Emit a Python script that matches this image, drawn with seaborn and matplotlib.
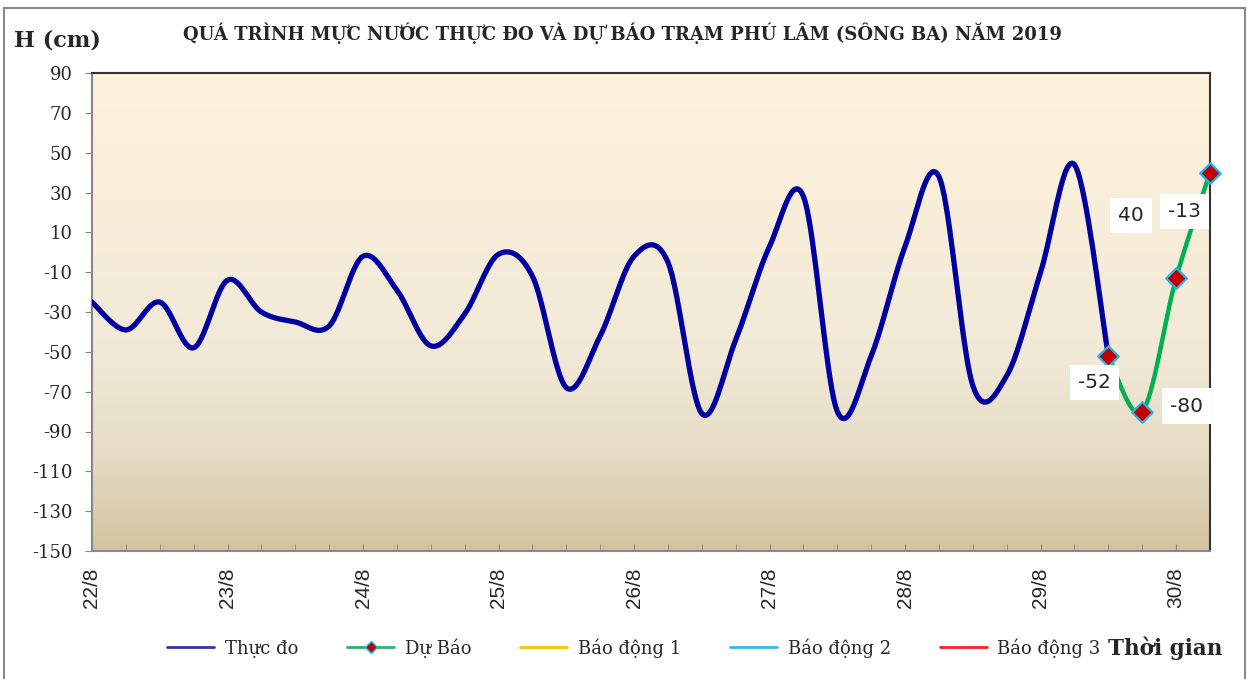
import numpy as np
import pandas as pd
import matplotlib.pyplot as plt
import seaborn as sns
from matplotlib.lines import Line2D
from matplotlib.patches import Rectangle
from matplotlib.colors import LinearSegmentedColormap

# water level readings every 6 hours, 22/8 00h .. 29/8 12h
thuc_do = [-25, -39, -25, -48, -14, -30, -35, -37,
           -2, -19, -47, -31, -1, -12, -68, -42,
           -2, -5, -81, -44, 3, 28, -80, -52,
           3, 38, -67, -62, -10, 44, -52]
# forecast, 29/8 12h .. 30/8 06h
du_bao = [-52, -80, -13, 40]
du_bao_start = 30
day_labels = ["22/8", "23/8", "24/8", "25/8", "26/8", "27/8", "28/8", "29/8", "30/8"]
y_ticks = list(range(90, -151, -20))


def smooth(xs, ys, n=20):
    # Excel-like smoothed line (Catmull-Rom bezier)
    xs = np.asarray(xs, float)
    ys = np.asarray(ys, float)
    px = np.concatenate([[xs[0]], xs, [xs[-1]]])
    py = np.concatenate([[ys[0]], ys, [ys[-1]]])
    outx, outy = [], []
    t = np.linspace(0, 1, n)
    for i in range(1, len(px) - 2):
        p0 = np.array([px[i - 1], py[i - 1]])
        p1 = np.array([px[i], py[i]])
        p2 = np.array([px[i + 1], py[i + 1]])
        p3 = np.array([px[i + 2], py[i + 2]])
        c1 = p1 + (p2 - p0) / 6
        c2 = p2 - (p3 - p1) / 6
        b = ((1 - t) ** 3)[:, None] * p1 + (3 * (1 - t) ** 2 * t)[:, None] * c1 \
            + (3 * (1 - t) * t ** 2)[:, None] * c2 + (t ** 3)[:, None] * p2
        outx.extend(b[:, 0])
        outy.extend(b[:, 1])
    return pd.DataFrame({"x": outx, "y": outy})


sns.set_style("ticks")
plt.rcParams["font.family"] = ["Liberation Sans", "DejaVu Sans"]
serif = ["DejaVu Serif"]

fig = plt.figure(figsize=(12.49, 6.79), dpi=100)
ax = fig.add_axes([92 / 1249, 1 - 551 / 679, 1118 / 1249, 478 / 679])

# gradient background
cmap = LinearSegmentedColormap.from_list("bg", [(0, "#FEF2DD"), (0.6, "#F1E9D6"), (0.8, "#E6DCC4"), (1, "#D3C49F")])
grad = np.linspace(0, 1, 256)[:, None]
ax.imshow(grad, cmap=cmap, aspect="auto", extent=[0, 1, 0, 1], transform=ax.transAxes, zorder=0)

x_obs = np.arange(len(thuc_do))
x_fc = np.arange(du_bao_start, du_bao_start + len(du_bao))

d1 = smooth(x_obs, thuc_do)
d2 = smooth(x_fc, du_bao)
sns.lineplot(data=d1, x="x", y="y", sort=False, ax=ax, color="#0000A0", linewidth=3.8, zorder=3)
sns.lineplot(data=d2, x="x", y="y", sort=False, ax=ax, color="#00B050", linewidth=3.2, zorder=3)
sns.scatterplot(x=x_fc, y=du_bao, ax=ax, marker="D", s=110, color="#C00000",
                edgecolor="#1CB8F0", linewidth=1.6, zorder=5, clip_on=False)

# data labels
offsets = [(-10, -19), (32, 4), (6, 48), (-57, -31)]
for xi, v, off in zip(x_fc, du_bao, offsets):
    ax.annotate(str(v), (xi, v), xytext=off, textcoords="offset points",
                ha="center", va="center", fontsize=14.5, family=["DejaVu Sans"],
                bbox=dict(boxstyle="square,pad=0.4", fc="white", ec="none"), zorder=6)

ax.set_xlim(0, 33)
ax.set_ylim(-150, 90)
ax.set_yticks(y_ticks)
ax.set_yticklabels([str(v) for v in y_ticks], fontsize=13, family=serif)
ax.set_xticks(np.arange(0, 33, 4))
ax.set_xticklabels(day_labels, rotation=90, fontsize=15)
ax.set_xticks(np.arange(0, 34, 1), minor=True)
ax.tick_params(axis="x", which="both", direction="in", length=5, color="#888888", pad=12)
ax.tick_params(axis="y", direction="out", length=5, color="#888888", pad=9)
ax.set_xlabel("")
ax.set_ylabel("")

for side in ["top", "right"]:
    ax.spines[side].set_visible(True)
    ax.spines[side].set_color("#333333")
    ax.spines[side].set_linewidth(1.5)
for side in ["left", "bottom"]:
    ax.spines[side].set_color("#888888")
    ax.spines[side].set_linewidth(1.5)

fig.text(183 / 1249, 1 - 33 / 679, "QUÁ TRÌNH MỰC NƯỚC THỰC ĐO VÀ DỰ BÁO TRẠM PHÚ LÂM (SÔNG BA) NĂM 2019",
         family=serif, fontweight="bold", fontsize=13, ha="left", va="center")
fig.text(14 / 1249, 1 - 40 / 679, "H (cm)", family=serif, fontweight="bold", fontsize=16,
         ha="left", va="center")
fig.text(1222 / 1249, 1 - 648 / 679, "Thời gian", family=serif, fontweight="bold", fontsize=15.5,
         ha="right", va="center")

handles = [
    Line2D([], [], color="#3333AA", lw=2),
    Line2D([], [], color="#33B070", lw=2, marker="D", markersize=6,
           markerfacecolor="#C00000", markeredgecolor="#1CB8F0"),
    Line2D([], [], color="#FFC000", lw=2),
    Line2D([], [], color="#33BBEE", lw=2),
    Line2D([], [], color="#FF2020", lw=2),
]
names = ["Thực đo", "Dự Báo", "Báo động 1", "Báo động 2", "Báo động 3"]
fig.legend(handles, names, loc="center", bbox_to_anchor=(634 / 1249, 1 - 648 / 679), ncol=5,
           frameon=False, prop={"family": serif, "size": 13}, handlelength=2.6,
           columnspacing=2.7, handletextpad=0.6)

# outer frame
fig.patches.append(Rectangle((4 / 1249, -0.05), 1241 / 1249, 1.05 - 8 / 679, transform=fig.transFigure,
                             fill=False, ec="#888888", lw=1.5))

fig.savefig("out.png", dpi=100)
